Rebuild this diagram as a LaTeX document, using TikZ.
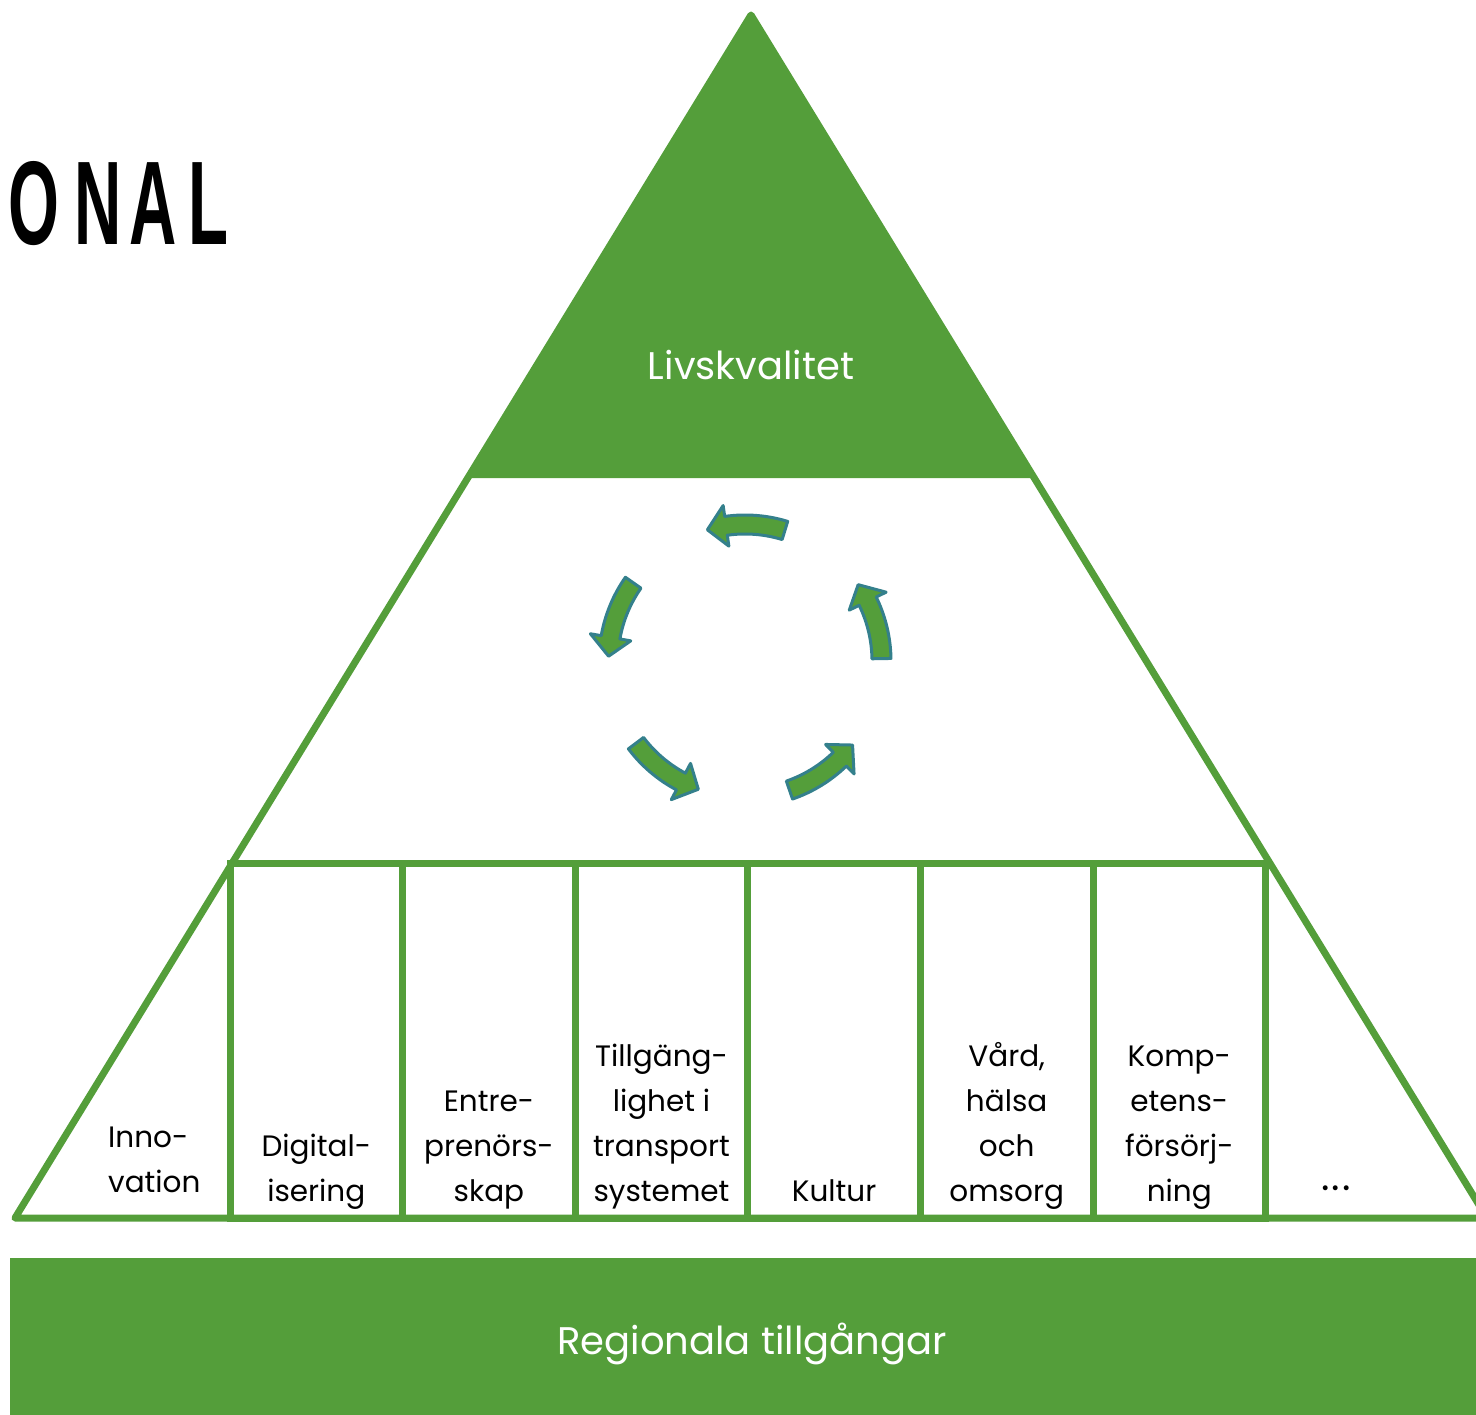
\documentclass[tikz,border=0pt]{standalone}
\usepackage{fontspec}
\setmainfont{Poppins}
\newfontfamily\titlefont{Liberation Sans}
\usetikzlibrary{positioning,calc}
\definecolor{leafgreen}{RGB}{84,158,58}
\definecolor{arrowrim}{RGB}{52,128,140}

\begin{document}
\begin{tikzpicture}[x=1pt, y=-1pt,
        edge/.style={draw=leafgreen, line width=7pt, line join=round},
        cell/.style={draw=leafgreen, line width=7pt, minimum width=172.6pt, minimum height=355pt, inner sep=0pt},
        lbl/.style={font=\fontsize{29.5}{45}\selectfont, align=center, anchor=south, text depth=10pt, inner sep=0pt},
        cyclearrow/.style={fill=leafgreen, draw=arrowrim, line width=3pt, line join=round}
    ]
    \useasboundingbox (0,0) rectangle (1476,1415);

    % Define the corners of the pyramid
    \coordinate (apex) at (751,15);
    \coordinate (bl) at (15,1218);
    \coordinate (br) at (1487,1218);
    \coordinate (tl) at ($(apex)!0.3849!(bl)$);
    \coordinate (tr) at ($(apex)!0.3849!(br)$);

    % Green top and the outline
    \fill[leafgreen, rounded corners=3pt] (apex) -- (tl) -- (tr) -- cycle;
    \draw[edge] (bl) -- (apex) -- (br) -- cycle;
    \node[text=white, font=\fontsize{38.5}{46}\selectfont] (top) at (751,365) {Livskvalitet};

    % Title rest at the left
    \node[anchor=base west, inner sep=0pt, font=\titlefont\bfseries\fontsize{119}{119}\selectfont] (title) at (8,245)
        {\scalebox{0.55}[1]{O\kern28pt N\kern14pt A\kern22pt L}};

    % Cycle of arrows
    \begin{scope}[shift={(745,661)}, yscale=-1]
        \foreach \k in {0,...,4} {
            \pgfmathsetmacro\a{72*\k+1}
            \pgfmathsetmacro\c{72*\k+34}
            \pgfmathsetmacro\b{\c-8}
            \draw[cyclearrow] (\a:146) arc[start angle=\a, end angle=\b, radius=146]
                -- (\b:157) -- (\c:136.5) -- (\b:116) -- (\b:127)
                arc[start angle=\b, end angle=\a, radius=127] -- cycle;
        }
    \end{scope}

    % Row of cells
    \foreach \i in {1,...,6}
        \node[cell] (c\i) at (230+172.6*\i-86.3, 1040.5) {};

    % Cell labels
    \foreach \i/\txt in {1/{Digital-\\isering}, 2/{Entre-\\prenörs-\\skap}, 3/{Tillgäng-\\lighet i\\transport\\systemet},
                         4/{Kultur}, 5/{Vård,\\hälsa\\och\\omsorg}, 6/{Komp-\\etens-\\försörj-\\ning}}
        \node[lbl] (t\i) at ([yshift=10pt]c\i.south) {\txt};

    \node[lbl, anchor=south west, align=left] (inno) at (108,1203) {Inno-\\vation};
    \node[lbl, anchor=base, font=\fontsize{40}{45}\selectfont] (more) at (1336,1190) {.\kern2pt.\kern2pt.};

    % Base bar
    \node[fill=leafgreen, minimum width=1484pt, minimum height=172pt, inner sep=0pt, text=white,
          font=\fontsize{38.5}{46}\selectfont] (assets) at (752,1344) {Regionala tillgångar};
\end{tikzpicture}
\end{document}
